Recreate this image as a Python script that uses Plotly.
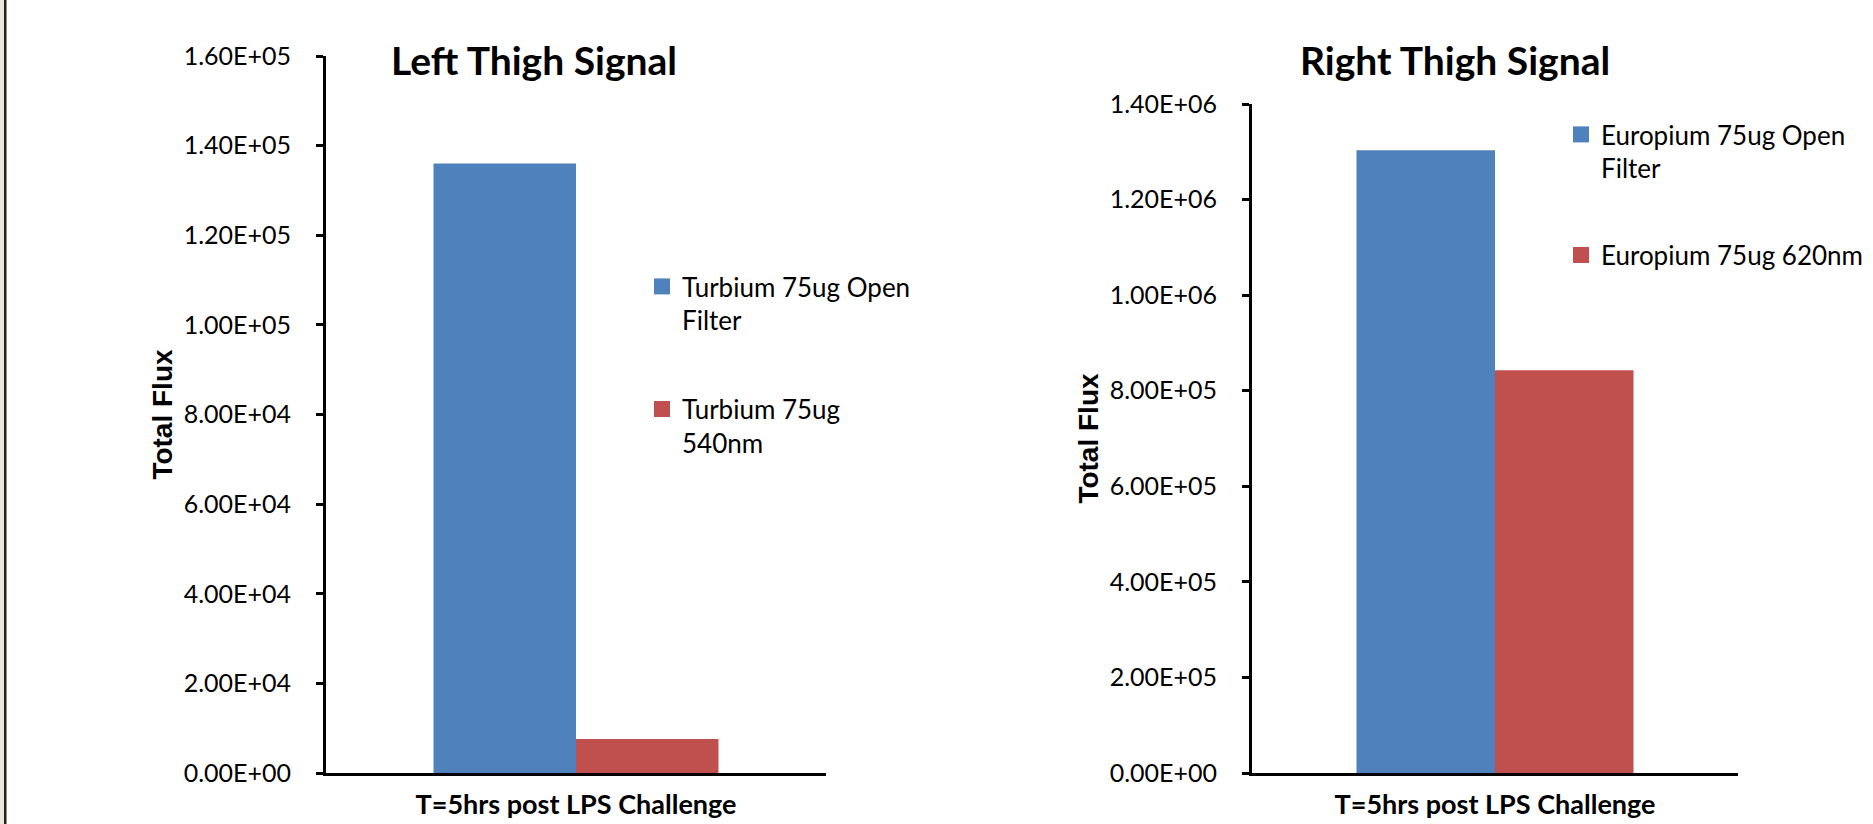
import plotly.graph_objects as go

W, H = 1873, 824

# ---------------- data ----------------
category = ["T=5hrs post LPS Challenge"]

left_title = "Left Thigh Signal"
left_series = ["Turbium 75ug Open Filter", "Turbium 75ug 540nm"]
left_legend_text = ["Turbium 75ug Open<br>Filter", "Turbium 75ug<br>540nm"]
left_values = [1.36e5, 7.6e3]
left_ticks = [0, 2e4, 4e4, 6e4, 8e4, 1.0e5, 1.2e5, 1.4e5, 1.6e5]

right_title = "Right Thigh Signal"
right_series = ["Europium 75ug Open Filter", "Europium 75ug 620nm"]
right_legend_text = ["Europium 75ug Open<br>Filter", "Europium 75ug 620nm"]
right_values = [1.303e6, 8.43e5]
right_ticks = [0, 2e5, 4e5, 6e5, 8e5, 1.0e6, 1.2e6, 1.4e6]

y_title = "Total Flux"
colors = ["#4F81BD", "#C0504D"]


def sci(v):
    return f"{v:.2E}"


def px_x(p):
    return p / W


def px_y(p):
    return 1 - p / H


fig = go.Figure()

# bars
for i, (name, val) in enumerate(zip(left_series, left_values)):
    fig.add_trace(go.Bar(x=category, y=[val], name=name, marker=dict(color=colors[i], line=dict(width=0)),
                         xaxis="x", yaxis="y", showlegend=False))
for i, (name, val) in enumerate(zip(right_series, right_values)):
    fig.add_trace(go.Bar(x=category, y=[val], name=name, marker=dict(color=colors[i], line=dict(width=0)),
                         xaxis="x2", yaxis="y2", showlegend=False))

# legend entries (square swatches)
for i, txt in enumerate(left_legend_text):
    fig.add_trace(go.Scatter(x=[None], y=[None], mode="markers", name=txt,
                             marker=dict(symbol="square", size=16, color=colors[i], line=dict(width=0)),
                             xaxis="x", yaxis="y", legend="legend", legendgroup=f"l{i}", showlegend=True))
for i, txt in enumerate(right_legend_text):
    fig.add_trace(go.Scatter(x=[None], y=[None], mode="markers", name=txt,
                             marker=dict(symbol="square", size=16, color=colors[i], line=dict(width=0)),
                             xaxis="x2", yaxis="y2", legend="legend2", legendgroup=f"r{i}", showlegend=True))

tick_font = dict(family="Lato", size=25, color="black")
cat_font = dict(family="Lato", size=27, color="black", weight="bold")
ytitle_font = dict(family="Liberation Sans", size=28, color="black", weight="bold")
legend_font = dict(family="Lato", size=26, color="black")
title_font = dict(family="Lato", size=39, color="black", weight="bold")

common_y = dict(showgrid=False, zeroline=False, showline=True, linecolor="black", linewidth=3,
                ticks="outside", ticklen=7, tickwidth=3, tickcolor="black", tickfont=tick_font,
                ticklabelstandoff=20, fixedrange=True, automargin=False)
common_x = dict(showgrid=False, zeroline=False, showline=True, linecolor="black", linewidth=3,
                ticks="", tickfont=cat_font, ticklabelstandoff=6, fixedrange=True, automargin=False)

fig.update_layout(
    template="none",
    width=W, height=H,
    margin=dict(l=0, r=0, t=0, b=0, pad=0, autoexpand=False),
    paper_bgcolor="white", plot_bgcolor="white",
    barmode="group", bargap=0.43, bargroupgap=0,
    xaxis=dict(domain=[px_x(326), px_x(826)], anchor="y", **common_x),
    yaxis=dict(domain=[px_y(773), px_y(56)], anchor="x", range=[0, left_ticks[-1]],
               tickvals=left_ticks, ticktext=[sci(v) for v in left_ticks],
               title=dict(text=y_title, font=ytitle_font, standoff=3), **common_y),
    xaxis2=dict(domain=[px_x(1252), px_x(1738)], anchor="y2", **common_x),
    yaxis2=dict(domain=[px_y(773), px_y(104)], anchor="x2", range=[0, right_ticks[-1]],
                tickvals=right_ticks, ticktext=[sci(v) for v in right_ticks],
                title=dict(text=y_title, font=ytitle_font, standoff=3), **common_y),
    legend=dict(x=px_x(642), xanchor="left", y=px_y(263), yanchor="top",
                font=legend_font, valign="top", borderwidth=0,
                tracegroupgap=52, bgcolor="rgba(0,0,0,0)", itemclick=False, itemdoubleclick=False),
    legend2=dict(x=px_x(1561), xanchor="left", y=px_y(111), yanchor="top",
                 font=legend_font, valign="top", borderwidth=0,
                 tracegroupgap=50, bgcolor="rgba(0,0,0,0)", itemclick=False, itemdoubleclick=False),
    showlegend=True,
    annotations=[
        dict(text=left_title, x=px_x(534), y=px_y(60), xref="paper", yref="paper",
             xanchor="center", yanchor="middle", showarrow=False, font=title_font),
        dict(text=right_title, x=px_x(1455), y=px_y(60), xref="paper", yref="paper",
             xanchor="center", yanchor="middle", showarrow=False, font=title_font),
    ],
    shapes=[
        dict(type="rect", xref="paper", yref="paper", x0=0, x1=px_x(4), y0=0, y1=1,
             fillcolor="#ECE9DC", line=dict(width=0), layer="above"),
        dict(type="rect", xref="paper", yref="paper", x0=px_x(4), x1=px_x(6.5), y0=0, y1=1,
             fillcolor="#222222", line=dict(width=0), layer="above"),
    ],
)

fig.write_html("out.html", config={"displayModeBar": False},
               post_script="document.body.style.margin='0';document.body.style.overflow='hidden';")
